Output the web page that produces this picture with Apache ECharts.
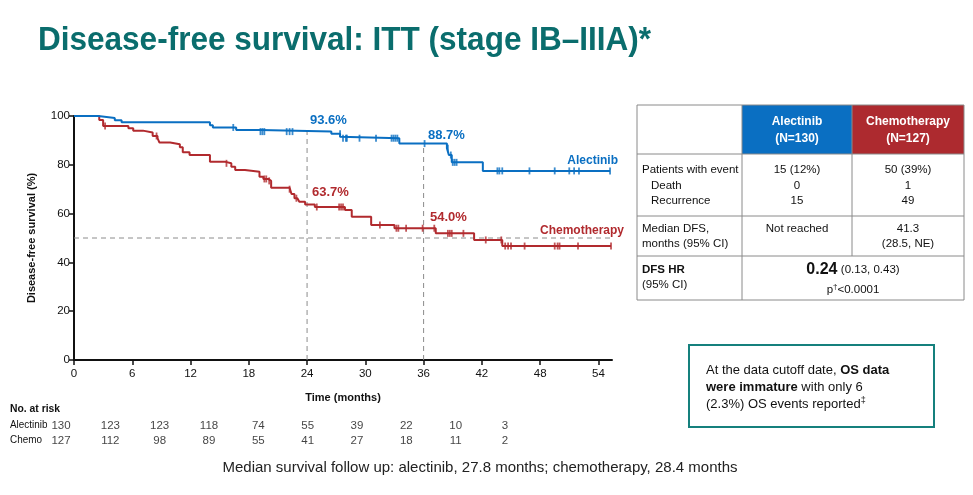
<!DOCTYPE html>
<html><head><meta charset="utf-8">
<script src="https://cdn.jsdelivr.net/npm/echarts@6/dist/echarts.min.js"></script>
<style>html,body{margin:0;padding:0;background:#fff}#c{width:973px;height:495px}</style>
</head><body><div id="c"></div>
<script>
// ---- data ----
var xTicks = [0, 6, 12, 18, 24, 30, 36, 42, 48, 54];
var yTicks = [0, 20, 40, 60, 80, 100];
// Kaplan-Meier steps [month, DFS %]
var alectinibSteps = [[0,100],[2.5,99.2],[4.2,98.3],[4.9,97.4],[14.0,96.2],[14.3,95.3],[16.7,94.3],[19.2,93.6],[26.5,92.7],[27.4,91.5],[27.6,90.9],[33.5,88.7],[38.4,86.8],[38.6,84.0],[38.9,81.0],[42.1,77.5],[55.2,77.5]];
var chemoSteps = [[0,100],[2.6,98.4],[3.0,95.9],[5.6,95.0],[6.1,94.0],[7.1,93.2],[8.1,91.8],[8.6,90.9],[8.8,89.1],[9.9,88.4],[10.9,87.2],[11.2,85.1],[11.9,84.0],[14.0,81.3],[15.5,80.6],[16.2,79.2],[16.6,77.9],[17.6,77.2],[19.1,75.1],[19.5,74.2],[20.0,73.4],[20.3,70.6],[22.2,70.0],[22.4,68.0],[22.7,66.3],[23.0,65.6],[23.2,64.9],[23.8,63.7],[24.8,62.7],[27.9,61.5],[28.6,58.7],[30.6,55.3],[33.0,54.0],[37.25,51.9],[41.2,49.2],[44.1,46.7],[55.3,46.7]];
// censored observations [month, DFS %]
var alectinibCensor = [[16.4,95.3],[19.2,93.6],[19.4,93.6],[19.6,93.6],[21.9,93.6],[22.2,93.6],[22.5,93.6],[27.4,92.7],[27.7,90.9],[28.0,90.9],[28.1,90.9],[29.4,90.9],[31.1,90.9],[32.7,90.9],[32.9,90.9],[33.1,90.9],[33.3,90.9],[36.1,88.7],[38.5,86.8],[38.8,84.0],[39.0,81.0],[39.2,81.0],[39.4,81.0],[43.6,77.5],[43.8,77.5],[44.1,77.5],[46.9,77.5],[49.5,77.5],[51.0,77.5],[51.5,77.5],[52.0,77.5],[55.2,77.5]];
var chemoCensor = [[3.2,95.9],[8.5,91.8],[15.7,80.6],[19.6,74.2],[19.8,74.2],[20.1,73.4],[22.2,70.0],[22.9,66.3],[25.0,62.7],[27.3,62.7],[27.5,62.7],[27.7,62.7],[31.5,55.3],[33.2,54.0],[33.4,54.0],[34.2,54.0],[35.9,54.0],[37.1,54.0],[38.5,51.9],[38.7,51.9],[38.9,51.9],[40.1,51.9],[42.4,49.2],[44.0,49.2],[44.4,46.7],[44.7,46.7],[45.0,46.7],[46.4,46.7],[49.5,46.7],[49.8,46.7],[50.0,46.7],[51.9,46.7],[55.3,46.7]];
// landmark values
var landmarkTimes = [24, 36];
var alectinibLandmark = [93.6, 88.7];
var chemoLandmark = [63.7, 54.0];
var medianLine = 50;
// number at risk
var riskRows = ['Chemo', 'Alectinib'];
var riskTimes = [0, 6, 12, 18, 24, 30, 36, 42, 48, 54];
var riskAlectinib = [130, 123, 123, 118, 74, 55, 39, 22, 10, 3];
var riskChemo = [127, 112, 98, 89, 55, 41, 27, 18, 11, 2];

var BLUE = '#0a6fc2', RED = '#b12a2e', TEAL = '#0a6d6d';
var FONT = "'Liberation Sans', Arial, sans-serif";

var chart = echarts.init(document.getElementById('c'), null, {renderer: 'canvas'});

function riskData(name, arr) { return riskTimes.map(function (t, i) { return [t, name, arr[i]]; }); }

var series = [
  {type: 'line', name: 'dash50', xAxisIndex: 0, yAxisIndex: 0, data: [[0, medianLine], [55.4, medianLine]], symbol: 'none', silent: true,
   lineStyle: {color: '#8c8c8c', width: 1, type: [5, 4]}, z: 1},
  {type: 'line', name: 'dash24', xAxisIndex: 0, yAxisIndex: 0, data: [[landmarkTimes[0], 0], [landmarkTimes[0], alectinibLandmark[0]]], symbol: 'none', silent: true,
   lineStyle: {color: '#8c8c8c', width: 1, type: [5, 4]}, z: 1},
  {type: 'line', name: 'dash36', xAxisIndex: 0, yAxisIndex: 0, data: [[landmarkTimes[1], 0], [landmarkTimes[1], alectinibLandmark[1]]], symbol: 'none', silent: true,
   lineStyle: {color: '#8c8c8c', width: 1, type: [5, 4]}, z: 1},
  {type: 'line', name: 'Chemotherapy', step: 'end', xAxisIndex: 0, yAxisIndex: 0, data: chemoSteps, symbol: 'none',
   lineStyle: {color: RED, width: 2}, z: 3},
  {type: 'line', name: 'Alectinib', step: 'end', xAxisIndex: 0, yAxisIndex: 0, data: alectinibSteps, symbol: 'none',
   lineStyle: {color: BLUE, width: 2}, z: 4},
  {type: 'scatter', xAxisIndex: 0, yAxisIndex: 0, data: chemoCensor, symbol: 'rect', symbolSize: [1.8, 7],
   itemStyle: {color: RED}, z: 5, silent: true},
  {type: 'scatter', xAxisIndex: 0, yAxisIndex: 0, data: alectinibCensor, symbol: 'rect', symbolSize: [1.8, 7],
   itemStyle: {color: BLUE}, z: 6, silent: true},
  {type: 'scatter', xAxisIndex: 1, yAxisIndex: 1, data: riskData('Alectinib', riskAlectinib).concat(riskData('Chemo', riskChemo)),
   symbolSize: 0, silent: true,
   label: {show: true, position: 'inside', formatter: function (p) { return p.value[2]; }, color: '#111', fontSize: 11.5, fontFamily: FONT}}
];

// title width fitting (narrow face emulated by horizontal scaling)
var TITLE = 'Disease-free survival: ITT (stage IB\u2013IIIA)*';
var titleFont = 'bold 34px ' + FONT;
var mctx = document.createElement('canvas').getContext('2d');
mctx.font = titleFont;
var titleScale = 613 / mctx.measureText(TITLE).width;

var g = [];
g.push({type: 'text', x: 38, y: 41, scaleX: titleScale, originX: 0, originY: 0,
  style: {text: TITLE, fill: TEAL, font: titleFont, textVerticalAlign: 'middle'}});
// curve annotations
function ann(x, y, t, c, size, align) { g.push({type: 'text', x: x, y: y, style: {text: t, fill: c, font: 'bold ' + size + 'px ' + FONT, textAlign: align || 'left', textVerticalAlign: 'middle'}}); }
ann(310, 120, '93.6%', BLUE, 13);
ann(428, 135, '88.7%', BLUE, 13);
ann(312, 192, '63.7%', RED, 13);
ann(430, 217, '54.0%', RED, 13);
ann(618, 161, 'Alectinib', BLUE, 12, 'right');
ann(624, 231, 'Chemotherapy', RED, 12, 'right');
// at-risk header and row names (narrow face emulated)
g.push({type: 'text', x: 10, y: 409, scaleX: 0.9, originX: 0, originY: 0, style: {text: 'No. at risk', fill: '#111', font: 'bold 11.5px ' + FONT, textVerticalAlign: 'middle'}});
g.push({type: 'text', x: 10, y: 425, scaleX: 0.86, originX: 0, originY: 0, style: {text: 'Alectinib', fill: '#111', font: '11.5px ' + FONT, textVerticalAlign: 'middle'}});
g.push({type: 'text', x: 10, y: 440, scaleX: 0.86, originX: 0, originY: 0, style: {text: 'Chemo', fill: '#111', font: '11.5px ' + FONT, textVerticalAlign: 'middle'}});
// footer
g.push({type: 'text', x: 480, y: 468, style: {text: 'Median survival follow up: alectinib, 27.8 months; chemotherapy, 28.4 months', fill: '#222', font: '15px ' + FONT, textAlign: 'center', textVerticalAlign: 'middle'}});

// table
var TL = 637, TR = 964, TT = 105, TB = 300, C1 = 742, C2 = 852, R1 = 154, R2 = 216, R3 = 256;
g.push({type: 'rect', shape: {x: C1, y: TT, width: C2 - C1, height: R1 - TT}, style: {fill: '#0a6fc2'}});
g.push({type: 'rect', shape: {x: C2, y: TT, width: TR - C2, height: R1 - TT}, style: {fill: '#ad2a2f'}});
g.push({type: 'rect', shape: {x: TL, y: TT, width: TR - TL, height: TB - TT}, style: {fill: 'none', stroke: '#8a8a8a', lineWidth: 1}});
function hl(y) { g.push({type: 'line', shape: {x1: TL, y1: y, x2: TR, y2: y}, style: {stroke: '#8a8a8a', lineWidth: 1}}); }
hl(R1); hl(R2); hl(R3);
g.push({type: 'line', shape: {x1: C1, y1: TT, x2: C1, y2: TB}, style: {stroke: '#8a8a8a', lineWidth: 1}});
g.push({type: 'line', shape: {x1: C2, y1: TT, x2: C2, y2: R3}, style: {stroke: '#8a8a8a', lineWidth: 1}});
function tt(x, y, t, opts) {
  opts = opts || {};
  g.push({type: 'text', x: x, y: y, style: {text: t, fill: opts.fill || '#111', font: (opts.bold ? 'bold ' : '') + (opts.size || 11.5) + 'px ' + FONT,
    textAlign: opts.align || 'left', textVerticalAlign: 'middle'}});
}
var cA = (C1 + C2) / 2, cC = (C2 + TR) / 2;
tt(cA, 122, 'Alectinib', {fill: '#fff', bold: true, size: 12, align: 'center'});
tt(cA, 139, '(N=130)', {fill: '#fff', bold: true, size: 12, align: 'center'});
tt(cC, 122, 'Chemotherapy', {fill: '#fff', bold: true, size: 12, align: 'center'});
tt(cC, 139, '(N=127)', {fill: '#fff', bold: true, size: 12, align: 'center'});
tt(642, 170, 'Patients with event');
tt(651, 186, 'Death');
tt(651, 201, 'Recurrence');
tt(cA, 170, '15 (12%)', {align: 'center'});
tt(cA, 186, '0', {align: 'center'});
tt(cA, 201, '15', {align: 'center'});
tt(cC, 170, '50 (39%)', {align: 'center'});
tt(cC, 186, '1', {align: 'center'});
tt(cC, 201, '49', {align: 'center'});
tt(642, 229, 'Median DFS,');
tt(642, 244, 'months (95% CI)');
tt(cA, 229, 'Not reached', {align: 'center'});
tt(cC, 229, '41.3', {align: 'center'});
tt(cC, 244, '(28.5, NE)', {align: 'center'});
tt(642, 270, 'DFS HR', {bold: true});
tt(642, 285, '(95% CI)');
g.push({type: 'text', x: (C1 + TR) / 2, y: 270, style: {text: '{b|0.24} {n|(0.13, 0.43)}', textAlign: 'center', textVerticalAlign: 'middle',
  rich: {b: {font: 'bold 16px ' + FONT, fill: '#111'}, n: {font: '11.5px ' + FONT, fill: '#111'}}}});
g.push({type: 'text', x: (C1 + TR) / 2, y: 290, style: {text: '{n|p}{s|\u2020}{n|<0.0001}', textAlign: 'center', textVerticalAlign: 'middle',
  rich: {n: {font: '11.5px ' + FONT, fill: '#111'}, s: {font: '8px ' + FONT, fill: '#111', padding: [0, 0, 6, 0]}}}});

// OS box
g.push({type: 'rect', shape: {x: 689, y: 345, width: 245, height: 82}, style: {fill: '#fff', stroke: '#15807d', lineWidth: 2}});
g.push({type: 'text', x: 706, y: 370, style: {text: '{n|At the data cutoff date, }{b|OS data}', textVerticalAlign: 'middle',
  rich: {n: {font: '13px ' + FONT, fill: '#111'}, b: {font: 'bold 13px ' + FONT, fill: '#111'}}}});
g.push({type: 'text', x: 706, y: 387, style: {text: '{b|were immature}{n| with only 6}', textVerticalAlign: 'middle',
  rich: {n: {font: '13px ' + FONT, fill: '#111'}, b: {font: 'bold 13px ' + FONT, fill: '#111'}}}});
g.push({type: 'text', x: 706, y: 404, style: {text: '{n|(2.3%) OS events reported}{s|\u2021}', textVerticalAlign: 'middle',
  rich: {n: {font: '13px ' + FONT, fill: '#111'}, s: {font: '9px ' + FONT, fill: '#111', padding: [0, 0, 6, 0]}}}});

chart.setOption({
  animation: false,
  textStyle: {fontFamily: FONT},
  grid: [
    {left: 74, top: 116, width: 538, height: 244, containLabel: false},
    {left: 61, top: 418, width: 444, height: 30, containLabel: false}
  ],
  xAxis: [
    {type: 'value', gridIndex: 0, min: 0, max: 55.4, interval: 6,
     name: 'Time (months)', nameLocation: 'middle', nameGap: 32,
     nameTextStyle: {fontSize: 11, fontWeight: 'bold', color: '#111', fontFamily: FONT},
     axisLine: {show: true, onZero: false, lineStyle: {color: '#111', width: 2}},
     axisTick: {show: true, length: 5, customValues: xTicks, lineStyle: {color: '#111', width: 1.5}},
     axisLabel: {customValues: xTicks, fontSize: 11.5, color: '#111', margin: 8, fontFamily: FONT},
     splitLine: {show: false}},
    {type: 'value', gridIndex: 1, min: 0, max: 54, show: false}
  ],
  yAxis: [
    {type: 'value', gridIndex: 0, min: 0, max: 100, interval: 20,
     name: 'Disease-free survival (%)', nameLocation: 'middle', nameGap: 37,
     nameTextStyle: {fontSize: 11, fontWeight: 'bold', color: '#111', fontFamily: FONT},
     axisLine: {show: true, lineStyle: {color: '#111', width: 2}},
     axisTick: {show: true, length: 5, lineStyle: {color: '#111', width: 1.5}},
     axisLabel: {fontSize: 11.5, color: '#111', margin: 4, fontFamily: FONT},
     splitLine: {show: false}},
    {type: 'category', gridIndex: 1, data: riskRows, show: false}
  ],
  series: series,
  graphic: g
});
</script></body></html>
